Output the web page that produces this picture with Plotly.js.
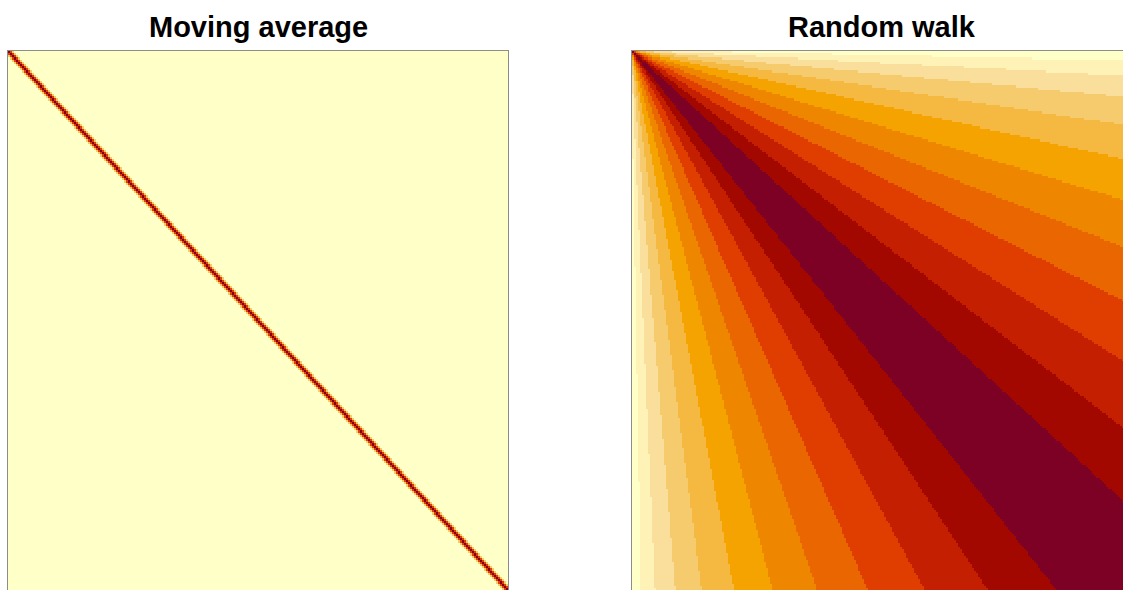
<!DOCTYPE html>
<html>
<head>
<meta charset="utf-8">
<script src="https://cdn.plot.ly/plotly-3.0.1.min.js"></script>
<style>
html,body{margin:0;padding:0;overflow:hidden;background:#fff;}
#chart{width:1140px;height:600px;}
</style>
</head>
<body>
<div id="chart"></div>
<script>
// ---- data ----
var titles = ["Moving average", "Random walk"];
var n = 250;                                  // series length (matrix size)
var maAcf = [1, 0.67, 0.33];                  // moving-average autocorrelation by lag
var palette = ["#FFFFC8","#FEF2B7","#F9DF9B","#F6CB6E","#F5B840","#F4A300",
               "#EF8600","#EA6600","#DF3E00","#C31F00","#A20800","#7D0025"];

// ---- matrices ----
var idx = [];
for (var k = 1; k <= n; k++) idx.push(k);
var zMA = [], zRW = [];
for (var i = 1; i <= n; i++) {
  var rMA = [], rRW = [];
  for (var j = 1; j <= n; j++) {
    var lag = Math.abs(i - j);
    rMA.push(lag < maAcf.length ? maAcf[lag] : 0);
    rRW.push(Math.sqrt(Math.min(i, j) / Math.max(i, j)));
  }
  zMA.push(rMA); zRW.push(rRW);
}

// discrete colour scale
var cs = [];
for (var c = 0; c < palette.length; c++) {
  cs.push([c / palette.length, palette[c]]);
  cs.push([(c + 1) / palette.length, palette[c]]);
}

var W = 1140, H = 600, ml = 8, mr = 8, mt = 51, mb = 10;
var pw = W - ml - mr;           // 1124
var plotW = 500, gap = pw - 2 * plotW;

var traces = [
  {type: "heatmap", x: idx, y: idx, z: zMA, zmin: 0, zmax: 1,
   colorscale: cs, showscale: false, zsmooth: false, xaxis: "x", yaxis: "y", hoverinfo: "skip"},
  {type: "heatmap", x: idx, y: idx, z: zRW, zmin: Math.sqrt(1 / n), zmax: 1,
   colorscale: cs, showscale: false, zsmooth: false, xaxis: "x2", yaxis: "y2", hoverinfo: "skip"}
];

function ax(dom, rng, anchor) {
  return {domain: dom, range: rng, showgrid: false, zeroline: false, showticklabels: false,
          ticks: "", showline: true, mirror: true, linecolor: "#8c8c8c", linewidth: 1,
          anchor: anchor, fixedrange: true};
}

var plotH = H - mt - mb;
var titleY = 1 + 24 / plotH;
var tFont = {family: "Liberation Sans, Arial, sans-serif", size: 29, color: "#000", weight: "bold"};
var layout = {
  width: W, height: H,
  margin: {l: ml, r: mr, t: mt, b: mb},
  paper_bgcolor: "#ffffff", plot_bgcolor: "#ffffff",
  showlegend: false,
  xaxis: ax([0, plotW / pw], [0.5, n + 0.5], "y"),
  yaxis: ax([0, 1], [n + 0.5, 0.5], "x"),
  xaxis2: ax([(plotW + gap) / pw, 1], [0.5, n + 0.5], "y2"),
  yaxis2: ax([0, 1], [n + 0.5, 0.5], "x2"),
  annotations: [
    {text: titles[0], xref: "paper", yref: "paper", x: (plotW / 2) / pw, y: titleY,
     xanchor: "center", yanchor: "middle", showarrow: false, font: tFont},
    {text: titles[1], xref: "paper", yref: "paper", x: (plotW + gap + plotW / 2) / pw, y: titleY,
     xanchor: "center", yanchor: "middle", showarrow: false, font: tFont}
  ]
};

Plotly.newPlot("chart", traces, layout, {staticPlot: true, displayModeBar: false});
</script>
</body>
</html>
